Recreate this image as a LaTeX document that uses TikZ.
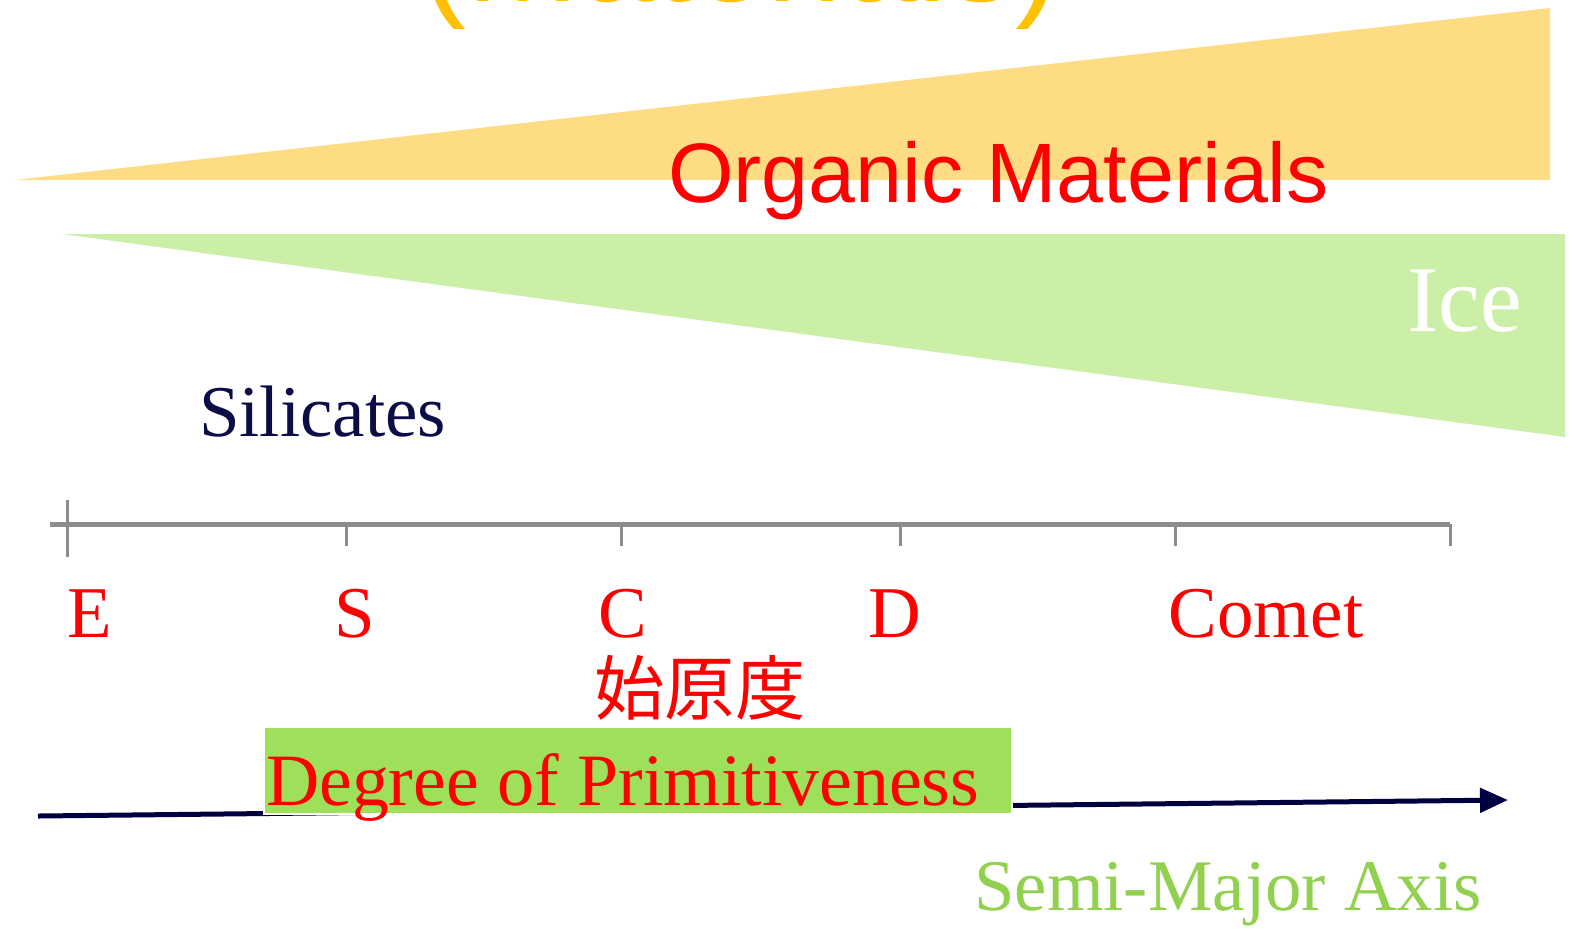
\documentclass[tikz,border=0pt]{standalone}
\usepackage{fontspec}
\setmainfont{Liberation Serif}
\newfontfamily\arialfont{Liberation Sans}
\newfontfamily\cjkfont{Noto Sans CJK JP}
\usepackage{xcolor}
\usetikzlibrary{arrows.meta, positioning}
\definecolor{wedgeorange}{RGB}{253,220,131}
\definecolor{wedgegreen}{RGB}{204,239,168}
\definecolor{boxgreen}{RGB}{159,224,90}
\definecolor{axisgray}{RGB}{140,140,140}
\definecolor{navyblue}{RGB}{0,0,64}
\definecolor{silicnavy}{RGB}{12,12,70}
\definecolor{axisgreen}{RGB}{146,208,80}
\definecolor{goldtext}{RGB}{255,192,0}
\tikzset{
  label/.style={inner sep=0pt, outer sep=0pt, anchor=base},
  classlabel/.style={label, red, font=\fontsize{41.5}{41.5}\selectfont},
  axisline/.style={draw=axisgray, line width=1mm},
  axistick/.style={draw=axisgray, line width=0.6mm},
  axisarrow/.style={draw=navyblue, line width=1mm, -{Triangle[length=5.6mm, width=4.8mm]}},
}
\begin{document}
\begin{tikzpicture}[x=0.2mm, y=-0.2mm]
\useasboundingbox (0,0) rectangle (1580,933);
% wedges
\fill[wedgeorange] (15,180) -- (1550,8) -- (1550,180) -- cycle;
\fill[wedgegreen] (62,234) -- (1565,234) -- (1565,437) -- cycle;
\node (toptext) [label, goldtext, font=\arialfont\fontsize{77}{77}\selectfont] at (741,1) {(Materials)};
\node (organic) [label, anchor=base west, red, font=\arialfont\fontsize{48}{48}\selectfont] at (668,202) {Organic Materials};
\node (ice) [label, anchor=base west, white, font=\fontsize{53.5}{53.5}\selectfont] at (1407,331) {Ice};
\node (silicates) [label, anchor=base west, silicnavy, font=\fontsize{41.5}{41.5}\selectfont] at (199,436) {Silicates};
% axis with ticks
\coordinate (axL) at (50,524);
\coordinate (axR) at (1450,524);
\draw[axisline] (axL) -- (axR);
\draw[axistick] (67,500) -- (67,557);
\foreach \x in {346,621,900,1175,1450}
  \draw[axistick] (\x,524) -- (\x,546);
\node (lE) [classlabel] at (90,637) {E};
\node (lS) [classlabel] at (355,637) {S};
\node (lC) [classlabel] at (623,637) {C};
\node (lD) [classlabel] at (895,637) {D};
\node (lComet) [classlabel] at (1266,637) {Comet};
\node (kanji) [label, red, font=\cjkfont\fontsize{40}{40}\selectfont] at (700,714) {始原度};
% semi-major axis arrow
\coordinate (arrS) at (38,816);
\coordinate (arrE) at (1508,800);
\draw[axisarrow] (arrS) -- (arrE);
\node (degbox) [anchor=north west, fill=boxgreen, draw=white, line width=0.4mm, inner sep=0pt, outer sep=0pt, minimum width=149.6mm, minimum height=17.4mm] at (264,727) {};
\node (degtext) [label, anchor=base west, red, font=\fontsize{42}{42}\selectfont] at (266,805) {Degree of Primitiveness};
\node (semimajor) [label, axisgreen, font=\fontsize{41.4}{41.4}\selectfont] at (1228,910) {Semi-Major Axis};
\end{tikzpicture}
\end{document}
